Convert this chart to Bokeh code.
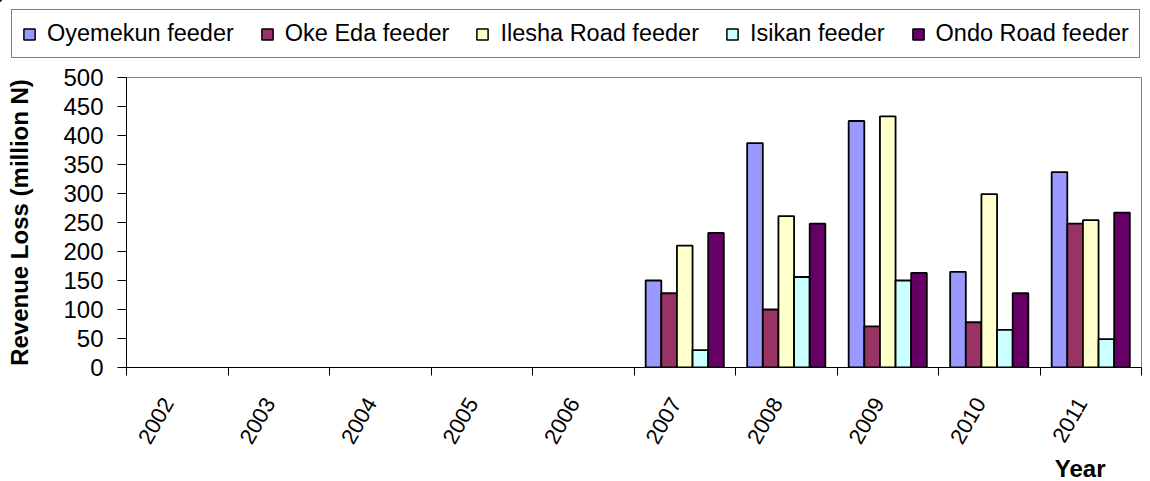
import math
from bokeh.plotting import figure
from bokeh.models import (ColumnDataSource, Range1d, LinearAxis, FixedTicker,
                          CustomJSTickFormatter, Legend, Title)
from bokeh.layouts import column
from bokeh.transform import dodge
from bokeh.embed import file_html
from bokeh.resources import INLINE

# ---- data ----
years = ["2002", "2003", "2004", "2005", "2006", "2007", "2008", "2009", "2010", "2011"]
bar_years = ["2007", "2008", "2009", "2010", "2011"]
series_names = ["Oyemekun feeder", "Oke Eda feeder", "Ilesha Road feeder",
                "Isikan feeder", "Ondo Road feeder"]
oyemekun = [150, 387, 425, 165, 337]
oke_eda = [128, 100, 71, 78, 248]
ilesha_road = [210, 261, 433, 299, 254]
isikan = [30, 156, 150, 65, 49]
ondo_road = [232, 248, 163, 128, 267]
colors = ["#9999FF", "#993366", "#FFFFCC", "#CCFFFF", "#660066"]
y_ticks = [0, 50, 100, 150, 200, 250, 300, 350, 400, 450, 500]

FONT = "Liberation Sans"
W = 1146
LEG_H = 60
CH_H = 421

src = ColumnDataSource(dict(
    xi=[years.index(y) + 0.5 for y in bar_years],
    s0=oyemekun, s1=oke_eda, s2=ilesha_road, s3=isikan, s4=ondo_road,
))

p = figure(width=W, height=CH_H, output_backend="svg", toolbar_location=None,
           x_range=Range1d(0, len(years)), y_range=Range1d(0, 500),
           x_axis_type=None, y_axis_type=None,
           min_border_left=126, min_border_right=5, min_border_top=17,
           min_border_bottom=114)
p.frame_align = False
p.outline_line_color = "#808080"
p.outline_line_width = 1
p.background_fill_color = "white"
p.border_fill_color = "white"

# y axis
yax = LinearAxis(ticker=FixedTicker(ticks=y_ticks, minor_ticks=[]))
yax.axis_line_color = "black"
yax.major_tick_line_color = "black"
yax.major_tick_in = 0
yax.major_tick_out = 9
yax.major_label_standoff = 14
yax.major_label_text_font = FONT
yax.major_label_text_font_size = "24px"
yax.major_label_text_color = "black"
yax.axis_label = "Revenue Loss (million N)"
yax.axis_label_text_font = FONT
yax.axis_label_text_font_size = "24px"
yax.axis_label_text_font_style = "bold"
yax.axis_label_text_color = "black"
yax.axis_label_standoff = 27
p.add_layout(yax, "left")

# x axis: year labels near category centres, ticks at category boundaries
LBL = 0.41
label_pos = [i + LBL for i in range(len(years))]
bounds = [float(i) for i in range(len(years) + 1)]
xax = LinearAxis(ticker=FixedTicker(ticks=label_pos, minor_ticks=bounds))
xax.formatter = CustomJSTickFormatter(args=dict(labels=years, off=LBL),
                                      code="return labels[Math.round(tick - off)]")
xax.axis_line_color = "black"
xax.major_tick_line_color = None
xax.major_tick_in = 0
xax.major_tick_out = 0
xax.minor_tick_line_color = "black"
xax.minor_tick_in = 0
xax.minor_tick_out = 8
xax.major_label_orientation = math.radians(60)
xax.major_label_standoff = 24
xax.major_label_text_font = FONT
xax.major_label_text_font_size = "22px"
xax.major_label_text_color = "black"
p.add_layout(xax, "below")

p.add_layout(Title(text="Year", align="right", offset=36, standoff=0,
                   text_font=FONT, text_font_size="24px", text_font_style="bold",
                   text_color="black"), "below")

p.ygrid.ticker = FixedTicker(ticks=y_ticks)
p.ygrid.grid_line_color = "#404040"
p.ygrid.grid_line_width = 1
p.xgrid.grid_line_color = None

bw = 0.154
offsets = [-2 * bw, -bw, 0, bw, 2 * bw]
for k, (col, off) in enumerate(zip(colors, offsets)):
    p.vbar(x=dodge("xi", off, range=p.x_range), top=f"s{k}", width=bw, bottom=0,
           source=src, fill_color=col, line_color="black", line_width=1.8)

# ---- legend strip: separate figure whose frame spans the full width ----
# (its ranges keep the series' bars out of view; only the legend shows)
lf = figure(width=W, height=LEG_H, output_backend="svg", toolbar_location=None,
            x_range=Range1d(1000, 1001), y_range=Range1d(-1000, -999),
            x_axis_type=None, y_axis_type=None,
            min_border_left=0, min_border_right=0, min_border_top=0, min_border_bottom=0)
lf.frame_align = False
lf.outline_line_color = None
lf.background_fill_color = "white"
lf.border_fill_color = "white"
items = []
for k, (name, col, off) in enumerate(zip(series_names, colors, offsets)):
    r = lf.vbar(x=dodge("xi", off, range=lf.x_range), top=f"s{k}", width=bw, bottom=0,
                source=src, fill_color=col, line_color="black", line_width=1.5)
    items.append((name, [r]))

legend = Legend(items=items, orientation="horizontal", location=(11, 2))
legend.label_text_font = FONT
legend.label_text_font_size = "23.5px"
legend.label_text_color = "black"
legend.glyph_width = 14
legend.glyph_height = 14
legend.label_standoff = 11
legend.spacing = 26
legend.padding = 10
legend.margin = 0
legend.border_line_color = "black"
legend.border_line_width = 1
legend.background_fill_color = "white"
legend.background_fill_alpha = 1
lf.add_layout(legend, "center")

layout = column(lf, p, spacing=0)
open("out.html", "w").write(file_html(layout, INLINE))
